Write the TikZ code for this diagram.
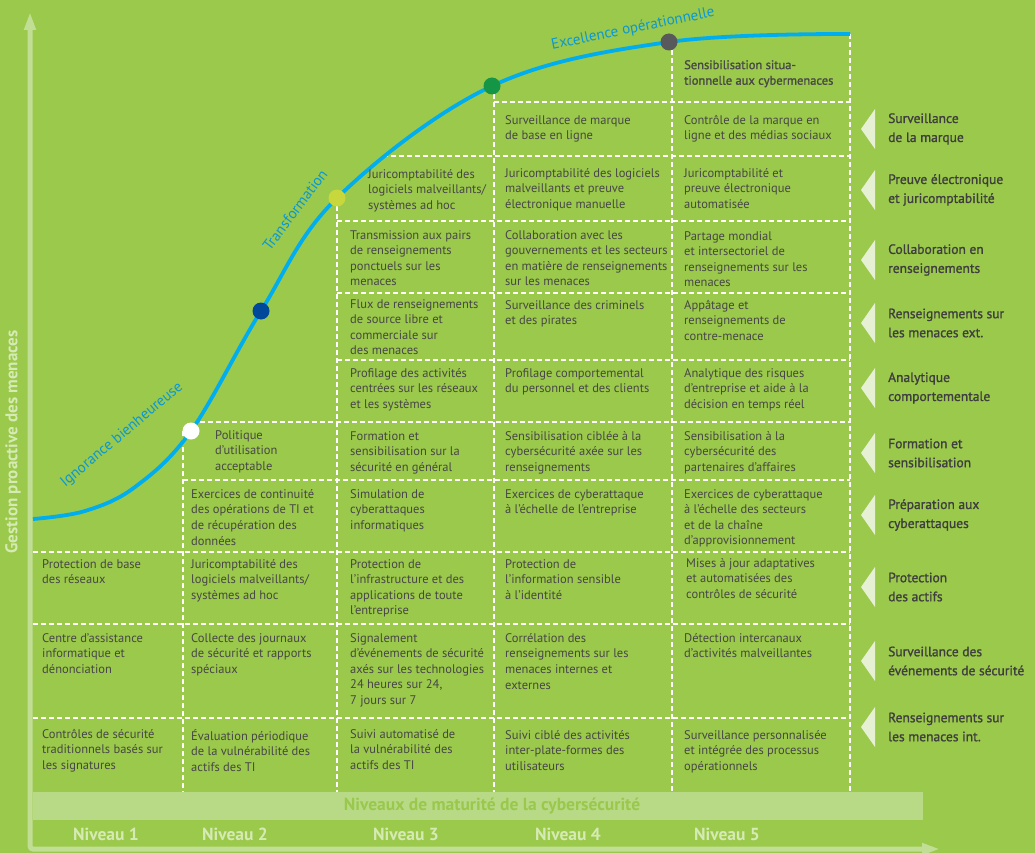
\documentclass[tikz,border=0pt]{standalone}
\usepackage{fontspec}
\setmainfont{PT Sans}
\newfontfamily\boldish[FakeBold=1.2]{PT Sans}
\usetikzlibrary{arrows.meta,positioning}
\definecolor{bggreen}{HTML}{9BC94B}
\definecolor{bandgreen}{HTML}{B8DA86}
\definecolor{axisgreen}{HTML}{C0DE94}
\definecolor{palegreen}{HTML}{D6EAB4}
\definecolor{bandtext}{HTML}{99C84C}
\definecolor{tripale}{HTML}{E6F0D2}
\definecolor{celltext}{HTML}{474747}
\definecolor{labeltext}{HTML}{3E3E3E}
\definecolor{curveblue}{HTML}{00AEEF}
\definecolor{curvetext}{HTML}{0A98D4}
\definecolor{dotblue}{HTML}{004899}
\definecolor{dotyellow}{HTML}{C8D73C}
\definecolor{dotgreen}{HTML}{149646}
\definecolor{dotgray}{HTML}{58595B}

\begin{document}
\begin{tikzpicture}[x=1pt,y=-1pt,% pixel coordinates, y pointing down
	every node/.style={inner sep=0pt},
	cell/.style={anchor=north west, align=left, text=celltext,
		font=\fontsize{12.5}{15.6}\selectfont},
	rowlabel/.style={anchor=west, align=left, text=labeltext,
		font=\boldish\fontsize{13.5}{19}\selectfont},
	curvelabel/.style={text=curvetext, font=\fontsize{15}{17}\selectfont},
	niveau/.style={text=palegreen, font=\bfseries\fontsize{17.5}{20}\selectfont},
	gridline/.style={white, line width=1.1pt, dash pattern=on 5pt off 3pt},
	dot/.style={circle, minimum size=17pt}
	]
	% background and frame
	\useasboundingbox (0,0) rectangle (1035,853);
	\fill[bggreen] (0,0) rectangle (1035,853);
	\fill[bandgreen] (33,792) rectangle (923,820);
	\draw[axisgreen, line width=5pt, rounded corners=3pt,
		{Triangle[width=11pt,length=18pt]}-{Triangle[width=11pt,length=18pt]}]
		(30,12) -- (30,849) -- (940,849);

	% dashed grid
	\draw[gridline] (494,102) -- (850,102);
	\draw[gridline] (383,156) -- (850,156);
	\foreach \y in {221,293,360}
		\draw[gridline] (337,\y) -- (850,\y);
	\draw[gridline] (200,422) -- (850,422);
	\draw[gridline] (183,480) -- (850,480);
	\foreach \y in {552,624,718}
		\draw[gridline] (33,\y) -- (850,\y);
	\draw[gridline] (183,431) -- (183,792);
	\draw[gridline] (337,198) -- (337,792);
	\draw[gridline] (494,86) -- (494,792);
	\draw[gridline] (672,42) -- (672,792);
	\draw[gridline] (850,34) -- (850,792);

	% maturity curve
	\coordinate (start) at (33,519);
	\coordinate (d1) at (191,431);
	\coordinate (d2) at (261,311);
	\coordinate (d3) at (337,198);
	\coordinate (d4) at (492,86);
	\coordinate (d5) at (669,42);
	\coordinate (finish) at (850,34);
	\draw[curveblue, line width=3.8pt]
		plot[smooth, tension=0.6] coordinates {(start) (85,511) (135,487) (d1) (d2) (d3) (d4) (d5) (finish)};
	\node[dot, fill=white] (p1) at (d1) {};
	\node[dot, fill=dotblue] (p2) at (d2) {};
	\node[dot, fill=dotyellow] (p3) at (d3) {};
	\node[dot, fill=dotgreen] (p4) at (d4) {};
	\node[dot, fill=dotgray] (p5) at (d5) {};
	\node[curvelabel, rotate=40] (ignorance) at (122,435) {Ignorance bienheureuse};
	\node[curvelabel, rotate=53] (transfo) at (295,210) {Transformation};
	\node[curvelabel, rotate=11.5] (excellence) at (633,29) {Excellence opérationnelle};

	% axes texts
	\node[text=palegreen, font=\bfseries\fontsize{17}{20}\selectfont, rotate=90] (yaxis) at (13,442) {Gestion proactive des menaces};
	\node[text=bandtext, font=\bfseries\fontsize{17.5}{20}\selectfont] (xaxis) at (492,806) {Niveaux de maturité de la cybersécurité};
	\node[niveau] (n1) at (106,834) {Niveau 1};
	\node[niveau] (n2) at (235,834) {Niveau 2};
	\node[niveau] (n3) at (406,834) {Niveau 3};
	\node[niveau] (n4) at (568,834) {Niveau 4};
	\node[niveau] (n5) at (727,834) {Niveau 5};

	% level 1
	\node[cell] (c1-prot) at (42,559) {Protection de base\\des réseaux};
	\node[cell] (c1-surv) at (42,633) {Centre d’assistance\\informatique et\\dénonciation};
	\node[cell] (c1-int) at (42,729) {Contrôles de sécurité\\traditionnels basés sur\\les signatures};
	% level 2
	\node[cell] (c2-form) at (215,430) {Politique\\d’utilisation\\acceptable};
	\node[cell] (c2-prep) at (191,489) {Exercices de continuité\\des opérations de TI et\\de récupération des\\données};
	\node[cell] (c2-prot) at (191,559) {Juricomptabilité des\\logiciels malveillants/\\systèmes ad hoc};
	\node[cell] (c2-surv) at (191,633) {Collecte des journaux\\de sécurité et rapports\\spéciaux};
	\node[cell] (c2-int) at (191,729) {Évaluation périodique\\de la vulnérabilité des\\actifs des TI};
	% level 3
	\node[cell] (c3-preuve) at (368,169) {Juricomptabilité des\\logiciels malveillants/\\systèmes ad hoc};
	\node[cell] (c3-collab) at (350,230) {Transmission aux pairs\\de renseignements\\ponctuels sur les\\menaces};
	\node[cell] (c3-ext) at (350,299) {Flux de renseignements\\de source libre et\\commerciale sur\\des menaces};
	\node[cell] (c3-analyt) at (350,368) {Profilage des activités\\centrées sur les réseaux\\et les systèmes};
	\node[cell] (c3-form) at (350,431) {Formation et\\sensibilisation sur la\\sécurité en général};
	\node[cell] (c3-prep) at (350,489) {Simulation de\\cyberattaques\\informatiques};
	\node[cell] (c3-prot) at (350,559) {Protection de\\l’infrastructure et des\\applications de toute\\l’entreprise};
	\node[cell] (c3-surv) at (350,633) {Signalement\\d’événements de sécurité\\axés sur les technologies\\24 heures sur 24,\\7 jours sur 7};
	\node[cell] (c3-int) at (350,729) {Suivi automatisé de\\la vulnérabilité des\\actifs des TI};
	% level 4
	\node[cell] (c4-marque) at (505,115) {Surveillance de marque\\de base en ligne};
	\node[cell] (c4-preuve) at (505,168) {Juricomptabilité des logiciels\\malveillants et preuve\\électronique manuelle};
	\node[cell] (c4-collab) at (505,230) {Collaboration avec les\\gouvernements et les secteurs\\en matière de renseignements\\sur les menaces};
	\node[cell] (c4-ext) at (505,300) {Surveillance des criminels\\et des pirates};
	\node[cell] (c4-analyt) at (505,368) {Profilage comportemental\\du personnel et des clients};
	\node[cell] (c4-form) at (505,431) {Sensibilisation ciblée à la\\cybersécurité axée sur les\\renseignements};
	\node[cell] (c4-prep) at (505,489) {Exercices de cyberattaque\\à l’échelle de l’entreprise};
	\node[cell] (c4-prot) at (505,559) {Protection de\\l’information sensible\\à l’identité};
	\node[cell] (c4-surv) at (505,633) {Corrélation des\\renseignements sur les\\menaces internes et\\externes};
	\node[cell] (c4-int) at (505,730) {Suivi ciblé des activités\\inter-plate-formes des\\utilisateurs};
	% level 5
	\node[cell, font=\boldish\fontsize{12.5}{15.6}\selectfont] (c5-top) at (684,60) {Sensibilisation situa-\\tionnelle aux cybermenaces};
	\node[cell] (c5-marque) at (684,115) {Contrôle de la marque en\\ligne et des médias sociaux};
	\node[cell] (c5-preuve) at (684,168) {Juricomptabilité et\\preuve électronique\\automatisée};
	\node[cell] (c5-collab) at (684,231) {Partage mondial\\et intersectoriel de\\renseignements sur les\\menaces};
	\node[cell] (c5-ext) at (684,300) {Appâtage et\\renseignements de\\contre-menace};
	\node[cell] (c5-analyt) at (684,368) {Analytique des risques\\d’entreprise et aide à la\\décision en temps réel};
	\node[cell] (c5-form) at (684,431) {Sensibilisation à la\\cybersécurité des\\partenaires d’affaires};
	\node[cell] (c5-prep) at (684,489) {Exercices de cyberattaque\\à l’échelle des secteurs\\et de la chaîne\\d’approvisionnement};
	\node[cell] (c5-prot) at (686,558) {Mises à jour adaptatives\\et automatisées des\\contrôles de sécurité};
	\node[cell] (c5-surv) at (684,633) {Détection intercanaux\\d’activités malveillantes};
	\node[cell] (c5-int) at (684,730) {Surveillance personnalisée\\et intégrée des processus\\opérationnels};

	% row labels with their pointers
	\foreach \y/\name/\txt in {
		129/marque/{Surveillance\\de la marque},
		190/preuve/{Preuve électronique\\et juricomptabilité},
		260/collab/{Collaboration en\\renseignements},
		323/ext/{Renseignements sur\\les menaces ext.},
		388/analyt/{Analytique\\comportementale},
		453/form/{Formation et\\sensibilisation},
		515/prep/{Préparation aux\\cyberattaques},
		587/prot/{Protection\\des actifs},
		661/surv/{Surveillance des\\événements de sécurité},
		727/int/{Renseignements sur\\les menaces int.}}
	{
		\fill[tripale] (861,\y) -- (875,\y-20) -- (875,\y+20) -- cycle;
		\node[rowlabel] (lab-\name) at (888,\y) {\txt};
	}
\end{tikzpicture}
\end{document}
